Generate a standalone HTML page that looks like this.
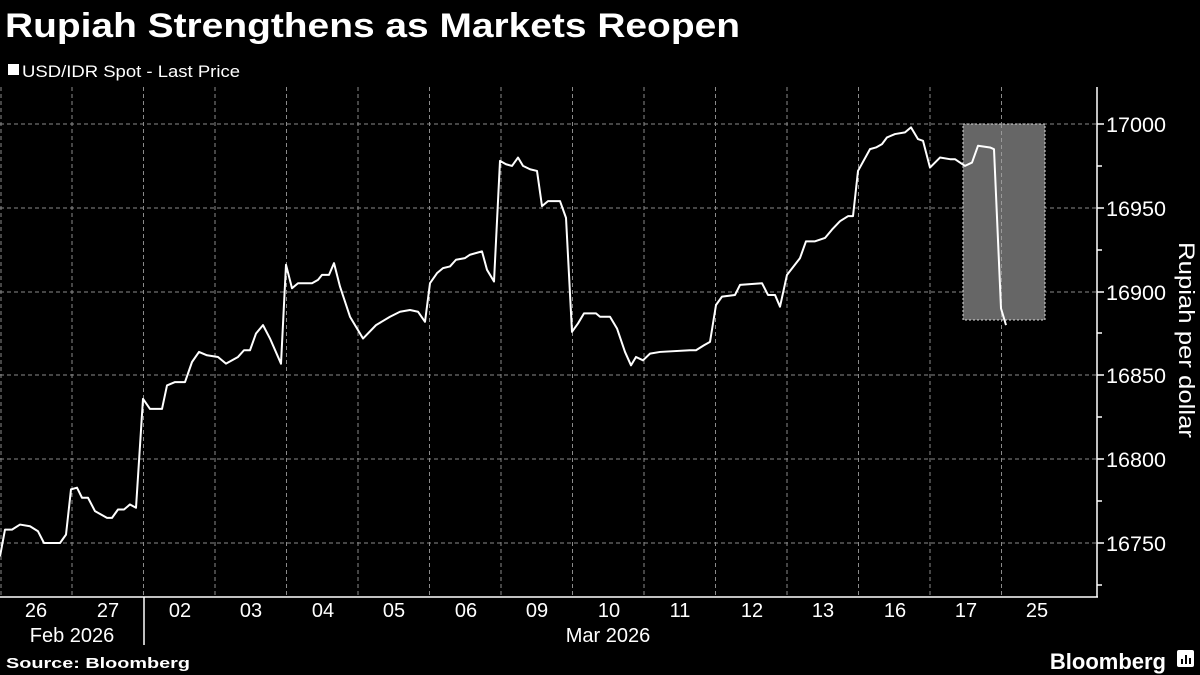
<!DOCTYPE html>
<html><head><style>
body{margin:0;background:#000;width:1200px;height:675px;overflow:hidden;font-family:"Liberation Sans",sans-serif;color:#fff}
</style></head><body>
<svg width="1200" height="675" xmlns="http://www.w3.org/2000/svg" style="position:absolute;left:0;top:0">
<rect width="1200" height="675" fill="#000"/>
<text x="5" y="37" font-size="34" font-weight="bold" fill="#fff" textLength="735" lengthAdjust="spacingAndGlyphs">Rupiah Strengthens as Markets Reopen</text>
<rect x="8" y="64" width="11" height="11" fill="#fff"/>
<text x="22" y="77" font-size="17" fill="#fff" textLength="218" lengthAdjust="spacingAndGlyphs">USD/IDR Spot - Last Price</text>
<g stroke="#8a8a8a" stroke-width="1" stroke-dasharray="4,3">
<line x1="0" y1="124" x2="1097" y2="124"/><line x1="0" y1="208" x2="1097" y2="208"/><line x1="0" y1="292" x2="1097" y2="292"/><line x1="0" y1="375" x2="1097" y2="375"/><line x1="0" y1="459" x2="1097" y2="459"/><line x1="0" y1="543" x2="1097" y2="543"/>
<line x1="1" y1="87" x2="1" y2="597"/><line x1="72" y1="87" x2="72" y2="597"/><line x1="143.5" y1="87" x2="143.5" y2="597"/><line x1="215" y1="87" x2="215" y2="597"/><line x1="286.5" y1="87" x2="286.5" y2="597"/><line x1="358" y1="87" x2="358" y2="597"/><line x1="429.5" y1="87" x2="429.5" y2="597"/><line x1="501" y1="87" x2="501" y2="597"/><line x1="572.5" y1="87" x2="572.5" y2="597"/><line x1="644" y1="87" x2="644" y2="597"/><line x1="715.5" y1="87" x2="715.5" y2="597"/><line x1="787" y1="87" x2="787" y2="597"/><line x1="858.5" y1="87" x2="858.5" y2="597"/><line x1="930" y1="87" x2="930" y2="597"/><line x1="1001.5" y1="87" x2="1001.5" y2="597"/>
</g>
<rect x="963" y="124" width="82" height="196" fill="#666" stroke="#ddd" stroke-width="1" stroke-dasharray="2,2"/>
<line x1="1001.5" y1="124" x2="1001.5" y2="320" stroke="#999" stroke-dasharray="4,3"/>
<g transform="translate(0,124) scale(1,-1.676) translate(0,-17000)">
<polyline fill="none" stroke="#fff" stroke-width="2" vector-effect="non-scaling-stroke" stroke-linejoin="round" points="0,16742 5,16758 12,16758 20,16761 30,16760 38,16757 44,16750 60,16750 66,16755 71,16782 77,16783 82,16777 88,16777 95,16769 107,16765 112,16765 118,16770 124,16770 130,16773 136,16771 143,16836 150,16830 162,16830 167,16844 175,16846 185,16846 192,16858 199,16864 207,16862 218,16861 226,16857 238,16861 244,16865 250,16865 256,16875 263,16880 270,16872 281,16857 286,16916 292,16902 298,16905 312,16905 318,16907 322,16910 329,16910 334,16917 340,16903 350,16885 363,16872 376,16880 390,16885 400,16888 410,16889 418,16888 425,16882 430,16905 437,16911 443,16914 450,16915 456,16919 465,16920 470,16922 482,16924 487,16913 494,16906 500,16978 506,16976 512,16975 518,16980 523,16975 530,16973 537,16972 542,16951 548,16954 560,16954 566,16944 572,16876 578,16881 584,16887 596,16887 600,16885 610,16885 617,16878 625,16864 631,16856 636,16861 643,16859 650,16863 660,16864 690,16865 696,16865 704,16868 710,16870 716,16892 722,16897 735,16898 740,16904 762,16905 768,16898 775,16898 780,16891 787,16910 800,16920 806,16930 815,16930 825,16932 832,16937 840,16942 848,16945 853,16945 858,16972 870,16985 876,16986 882,16988 887,16992 895,16994 905,16995 911,16998 918,16991 923,16990 930,16974 940,16980 950,16979 955,16979 965,16975 972,16977 978,16987 990,16986 994,16985 1001,16890 1006,16880"/>
</g>
<line x1="0" y1="597" x2="1098" y2="597" stroke="#fff" stroke-width="1.5"/>
<line x1="1097" y1="87" x2="1097" y2="597" stroke="#fff" stroke-width="1.5"/>
<line x1="144" y1="597" x2="144" y2="645" stroke="#fff" stroke-width="1.5"/>
<g stroke="#fff" stroke-width="1.5">
<line x1="1097" y1="124" x2="1104" y2="124"/><line x1="1097" y1="166" x2="1102" y2="166"/><line x1="1097" y1="208" x2="1104" y2="208"/><line x1="1097" y1="250" x2="1102" y2="250"/><line x1="1097" y1="292" x2="1104" y2="292"/><line x1="1097" y1="333" x2="1102" y2="333"/><line x1="1097" y1="375" x2="1104" y2="375"/><line x1="1097" y1="417" x2="1102" y2="417"/><line x1="1097" y1="459" x2="1104" y2="459"/><line x1="1097" y1="501" x2="1102" y2="501"/><line x1="1097" y1="543" x2="1104" y2="543"/><line x1="1097" y1="585" x2="1102" y2="585"/>
</g>
<g font-size="21" fill="#fff">
<text x="1106" y="132" textLength="60" lengthAdjust="spacingAndGlyphs">17000</text><text x="1106" y="216" textLength="60" lengthAdjust="spacingAndGlyphs">16950</text><text x="1106" y="300" textLength="60" lengthAdjust="spacingAndGlyphs">16900</text><text x="1106" y="383" textLength="60" lengthAdjust="spacingAndGlyphs">16850</text><text x="1106" y="467" textLength="60" lengthAdjust="spacingAndGlyphs">16800</text><text x="1106" y="551" textLength="60" lengthAdjust="spacingAndGlyphs">16750</text>
</g>
<text transform="translate(1179,340) rotate(90)" text-anchor="middle" font-size="22" fill="#fff" textLength="196" lengthAdjust="spacingAndGlyphs">Rupiah per dollar</text>
<g font-size="20" fill="#fff" text-anchor="middle">
<text x="36" y="617">26</text><text x="108" y="617">27</text><text x="180" y="617">02</text><text x="251" y="617">03</text><text x="323" y="617">04</text><text x="394" y="617">05</text><text x="466" y="617">06</text><text x="537" y="617">09</text><text x="609" y="617">10</text><text x="680" y="617">11</text><text x="752" y="617">12</text><text x="823" y="617">13</text><text x="895" y="617">16</text><text x="966" y="617">17</text><text x="1037" y="617">25</text>
<text x="72" y="642">Feb 2026</text><text x="608" y="642">Mar 2026</text>
</g>
<text x="6" y="668" font-size="15" font-weight="bold" fill="#fff" textLength="184" lengthAdjust="spacingAndGlyphs">Source: Bloomberg</text>
<text x="1166" y="669" font-size="22" font-weight="bold" fill="#fff" text-anchor="end">Bloomberg</text>
<rect x="1177" y="650" width="17" height="17" rx="2" fill="#fff"/>
<g stroke="#000" stroke-width="2"><line x1="1182" y1="664" x2="1182" y2="659"/><line x1="1186" y1="664" x2="1186" y2="655"/><line x1="1190" y1="664" x2="1190" y2="658"/></g>
</svg>
</body></html>
